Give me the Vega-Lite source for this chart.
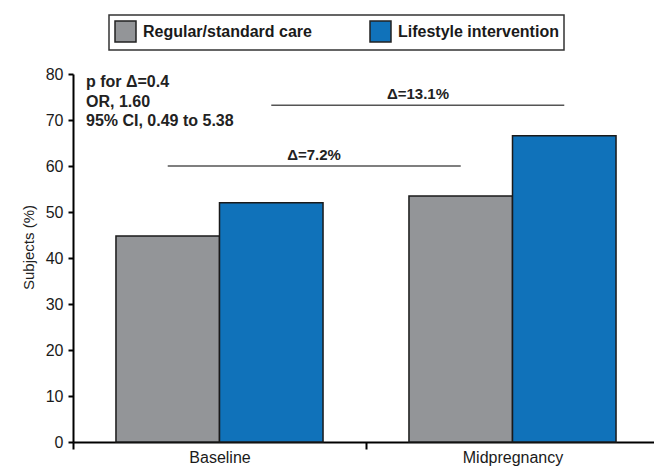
{
  "$schema": "https://vega.github.io/schema/vega-lite/v6.json",
  "width": 581,
  "height": 368,
  "autosize": "none",
  "padding": {"left": 73, "top": 74, "right": 0, "bottom": 24},
  "config": {
    "font": "Liberation Sans",
    "view": {"stroke": null},
    "axis": {"grid": false, "domainColor": "#000", "domainWidth": 2, "tickColor": "#000", "tickWidth": 2, "labelColor": "#1a1a1a", "titleFontWeight": "normal"},
    "legend": {"strokeWidth": 1.5}
  },
  "datasets": {
    "bars": [
      {"period": "Baseline", "group": "Regular/standard care", "pct": 44.8},
      {"period": "Baseline", "group": "Lifestyle intervention", "pct": 52.0},
      {"period": "Midpregnancy", "group": "Regular/standard care", "pct": 53.5},
      {"period": "Midpregnancy", "group": "Lifestyle intervention", "pct": 66.6}
    ],
    "lines": [
      {"period": "Baseline", "group": "Regular/standard care", "y": 60.0},
      {"period": "Midpregnancy", "group": "Regular/standard care", "y": 60.0},
      {"period": "Baseline", "group": "Lifestyle intervention", "y": 73.2},
      {"period": "Midpregnancy", "group": "Lifestyle intervention", "y": 73.2}
    ],
    "deltas": [
      {"period": "Midpregnancy", "side": "left", "y": 60.0, "label": "Δ=7.2%"},
      {"period": "Midpregnancy", "side": "right", "y": 73.2, "label": "Δ=13.1%"}
    ],
    "notes": [
      {"period": "Baseline", "y": 80, "label": "p for Δ=0.4\nOR, 1.60\n95% CI, 0.49 to 5.38"}
    ]
  },
  "encoding": {
    "x": {"field": "period", "type": "nominal",
      "scale": {"domain": ["Baseline", "Midpregnancy"], "range": [0, 586], "paddingInner": 0, "paddingOuter": 0},
      "axis": {"title": null, "labelAngle": 0, "tickBand": "extent", "tickSize": 7, "labelPadding": 0, "labelFontSize": 16}},
    "y": {"type": "quantitative",
      "scale": {"domain": [0, 80], "nice": false},
      "axis": {"title": "Subjects (%)", "titleFontSize": 15, "titleColor": "#222", "titlePadding": 9, "titleY": 173, "values": [0,10,20,30,40,50,60,70,80], "tickSize": 5, "labelPadding": 5, "labelFontSize": 16}}
  },
  "layer": [
    {
      "data": {"name": "bars"},
      "mark": {"type": "bar", "stroke": "#1a1a1a", "strokeWidth": 1.5},
      "encoding": {
        "y": {"field": "pct", "type": "quantitative"},
        "xOffset": {"field": "group", "type": "nominal", "scale": {"domain": ["Regular/standard care", "Lifestyle intervention"], "paddingInner": 0, "paddingOuter": 0.415}},
        "color": {"field": "group", "type": "nominal",
          "scale": {"domain": ["Regular/standard care", "Lifestyle intervention"], "range": ["#939598", "#1072BA"]},
          "legend": {"title": null, "orient": "none", "legendX": 36, "legendY": -59, "direction": "horizontal",
            "strokeColor": "#333", "padding": 5, "columnPadding": 55,
            "symbolType": "square", "symbolSize": 441, "symbolStrokeColor": "#222", "symbolStrokeWidth": 1.5, "symbolOpacity": 1,
            "labelFontSize": 16, "labelFontWeight": "bold", "labelColor": "#1a1a1a", "labelOffset": 6, "labelLimit": 300}}
      }
    },
    {
      "data": {"name": "lines"},
      "mark": {"type": "line", "color": "#555", "strokeWidth": 1.5},
      "encoding": {
        "y": {"field": "y", "type": "quantitative"},
        "xOffset": {"field": "group", "type": "nominal"},
        "detail": {"field": "group", "type": "nominal"}
      }
    },
    {
      "data": {"name": "deltas"},
      "transform": [{"filter": "datum.side === 'left'"}],
      "mark": {"type": "text", "fontSize": 15, "fontWeight": "bold", "color": "#222", "dx": -52, "dy": -6, "baseline": "alphabetic", "align": "center"},
      "encoding": {
        "x": {"field": "period", "type": "nominal", "bandPosition": 0},
        "y": {"field": "y", "type": "quantitative"},
        "text": {"field": "label"}
      }
    },
    {
      "data": {"name": "deltas"},
      "transform": [{"filter": "datum.side === 'right'"}],
      "mark": {"type": "text", "fontSize": 15, "fontWeight": "bold", "color": "#222", "dx": 52, "dy": -6, "baseline": "alphabetic", "align": "center"},
      "encoding": {
        "x": {"field": "period", "type": "nominal", "bandPosition": 0},
        "y": {"field": "y", "type": "quantitative"},
        "text": {"field": "label"}
      }
    },
    {
      "data": {"name": "notes"},
      "mark": {"type": "text", "fontSize": 16, "fontWeight": "bold", "color": "#222", "dx": 13, "dy": 0, "baseline": "top", "align": "left", "lineBreak": "\n", "lineHeight": 19.5},
      "encoding": {
        "x": {"field": "period", "type": "nominal", "bandPosition": 0},
        "y": {"field": "y", "type": "quantitative"},
        "text": {"field": "label"}
      }
    }
  ]
}
